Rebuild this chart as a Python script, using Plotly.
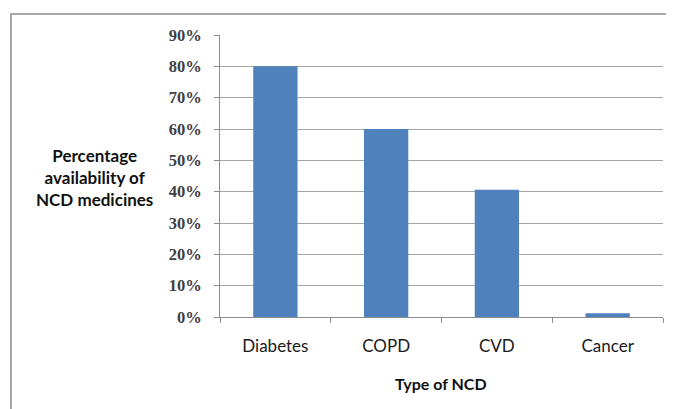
import plotly.graph_objects as go

categories = ["Diabetes", "COPD", "CVD", "Cancer"]
values = [0.80, 0.60, 0.406, 0.012]
y_ticks = [0, 0.1, 0.2, 0.3, 0.4, 0.5, 0.6, 0.7, 0.8, 0.9]
y_labels = ["0%", "10%", "20%", "30%", "40%", "50%", "60%", "70%", "80%", "90%"]

fig = go.Figure(go.Bar(x=categories, y=values, marker=dict(color="#4F81BD", line=dict(width=0)),
                       width=0.4))

# page body has an 8px default margin; compensate
W, H = 666, 401
L, R, T, B = 212, 11, 27, 92
PW, PH = W - L - R, H - T - B
fig.update_layout(
    width=W, height=H,
    margin=dict(l=L, r=R, t=T, b=B),
    paper_bgcolor="white", plot_bgcolor="white",
    showlegend=False,
    xaxis=dict(showline=True, linecolor="#8C8C8C", linewidth=1, ticks="outside", ticklen=5,
               tickcolor="#8C8C8C", tickson="boundaries", ticklabelstandoff=14,
               tickfont=dict(family="Lato", size=17, color="#1a1a1a")),
    yaxis=dict(range=[0, 0.9], tickvals=y_ticks, ticktext=y_labels, showline=True, linecolor="#8C8C8C",
               linewidth=1, ticks="outside", ticklen=5, tickcolor="#8C8C8C", ticklabelstandoff=9,
               showgrid=True, gridcolor="#A6A6A6", gridwidth=1, zeroline=False,
               tickfont=dict(family="Liberation Serif", size=16.5, color="#404040", weight="bold")),
    annotations=[
        dict(text="<b>Percentage<br>availability of<br>NCD medicines</b>", xref="paper", yref="paper",
             x=(87 - L) / PW, y=1 - (169 - T) / PH, xanchor="center", yanchor="middle", showarrow=False,
             align="center", font=dict(family="Lato", size=17, color="#111")),
        dict(text="<b>Type of NCD</b>", xref="paper", yref="paper",
             x=(433 - L) / PW, y=-(375 - (H - B)) / PH, xanchor="center", yanchor="middle", showarrow=False,
             font=dict(family="Lato", size=16, color="#111")),
    ],
    shapes=[dict(type="rect", xref="paper", yref="paper",
                 x0=(3 - L) / PW, x1=(W + 10 - L) / PW,
                 y0=-(B + 20) / PH, y1=1 + (T - 6) / PH,
                 line=dict(color="#8C8C8C", width=1.5))],
)
fig.write_html("out.html")
